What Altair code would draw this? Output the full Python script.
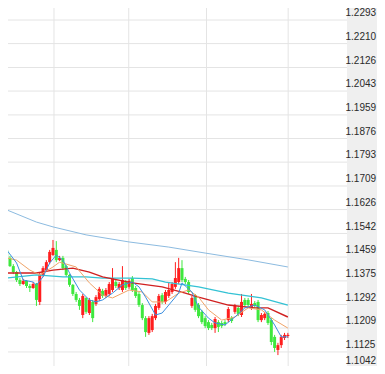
import altair as alt
import pandas as pd

# ---- candle data (index = trading day) ----
opens = [1.1484, 1.1456, 1.1427, 1.1406, 1.1378, 1.1364, 1.1375, 1.1357, 1.1350, 1.1364,
         1.1301, 1.1396, 1.1413, 1.1441, 1.1466, 1.1484, 1.1448, 1.1456, 1.1427, 1.1396,
         1.1361, 1.1329, 1.1308, 1.1255, 1.1315, 1.1262, 1.1301, 1.1294, 1.1311, 1.1340,
         1.1322, 1.1329, 1.1343, 1.1371, 1.1350, 1.1343, 1.1371, 1.1354, 1.1385, 1.1350,
         1.1329, 1.1290, 1.1244, 1.1192, 1.1202, 1.1244, 1.1280, 1.1325, 1.1301, 1.1322,
         1.1336, 1.1354, 1.1371, 1.1420, 1.1382, 1.1371, 1.1287, 1.1322, 1.1290, 1.1266,
         1.1244, 1.1230, 1.1220, 1.1209, 1.1230, 1.1227, 1.1230, 1.1237, 1.1244, 1.1266,
         1.1280, 1.1255, 1.1308, 1.1308, 1.1280, 1.1297, 1.1301, 1.1237, 1.1244, 1.1262,
         1.1237, 1.1178, 1.1132, 1.1149, 1.1174, 1.1181]
closes = [1.1456, 1.1427, 1.1406, 1.1378, 1.1364, 1.1375, 1.1357, 1.1350, 1.1364, 1.1308,
          1.1396, 1.1420, 1.1441, 1.1477, 1.1491, 1.1448, 1.1456, 1.1420, 1.1396, 1.1361,
          1.1329, 1.1308, 1.1287, 1.1322, 1.1266, 1.1308, 1.1244, 1.1318, 1.1347, 1.1322,
          1.1343, 1.1364, 1.1385, 1.1357, 1.1364, 1.1378, 1.1350, 1.1375, 1.1343, 1.1322,
          1.1290, 1.1244, 1.1195, 1.1244, 1.1251, 1.1287, 1.1322, 1.1301, 1.1336, 1.1343,
          1.1364, 1.1385, 1.1420, 1.1378, 1.1371, 1.1336, 1.1315, 1.1273, 1.1251, 1.1230,
          1.1216, 1.1209, 1.1209, 1.1241, 1.1213, 1.1216, 1.1223, 1.1276, 1.1234, 1.1287,
          1.1259, 1.1301, 1.1290, 1.1290, 1.1294, 1.1287, 1.1237, 1.1255, 1.1259, 1.1227,
          1.1160, 1.1139, 1.1149, 1.1178, 1.1185, 1.1185]
highs = [1.1494, 1.1463, 1.1434, 1.1410, 1.1385, 1.1382, 1.1378, 1.1364, 1.1371, 1.1368,
         1.1403, 1.1427, 1.1448, 1.1484, 1.1519, 1.1515, 1.1463, 1.1463, 1.1431, 1.1399,
         1.1364, 1.1336, 1.1315, 1.1329, 1.1318, 1.1315, 1.1308, 1.1325, 1.1354, 1.1347,
         1.1350, 1.1371, 1.1420, 1.1378, 1.1371, 1.1427, 1.1378, 1.1382, 1.1392, 1.1357,
         1.1336, 1.1297, 1.1251, 1.1251, 1.1259, 1.1294, 1.1329, 1.1332, 1.1343, 1.1371,
         1.1371, 1.1441, 1.1456, 1.1448, 1.1389, 1.1378, 1.1322, 1.1329, 1.1297, 1.1273,
         1.1251, 1.1237, 1.1227, 1.1248, 1.1237, 1.1234, 1.1237, 1.1283, 1.1251, 1.1294,
         1.1287, 1.1329, 1.1315, 1.1315, 1.1329, 1.1304, 1.1308, 1.1262, 1.1266, 1.1269,
         1.1244, 1.1185, 1.1157, 1.1185, 1.1192, 1.1192]
lows = [1.1448, 1.1424, 1.1399, 1.1371, 1.1357, 1.1361, 1.1350, 1.1336, 1.1347, 1.1287,
        1.1290, 1.1389, 1.1406, 1.1434, 1.1463, 1.1441, 1.1445, 1.1413, 1.1389, 1.1354,
        1.1322, 1.1301, 1.1273, 1.1244, 1.1259, 1.1255, 1.1230, 1.1287, 1.1304, 1.1315,
        1.1315, 1.1322, 1.1336, 1.1350, 1.1343, 1.1336, 1.1343, 1.1347, 1.1336, 1.1315,
        1.1283, 1.1237, 1.1178, 1.1185, 1.1195, 1.1237, 1.1273, 1.1294, 1.1294, 1.1315,
        1.1329, 1.1347, 1.1364, 1.1371, 1.1364, 1.1329, 1.1280, 1.1266, 1.1244, 1.1223,
        1.1209, 1.1202, 1.1202, 1.1192, 1.1195, 1.1209, 1.1216, 1.1230, 1.1227, 1.1259,
        1.1251, 1.1248, 1.1283, 1.1283, 1.1273, 1.1280, 1.1230, 1.1230, 1.1237, 1.1220,
        1.1149, 1.1125, 1.1114, 1.1139, 1.1167, 1.1174]

# ---- moving average lines (read at sample days) ----
ma_long_idx = [0, 9, 14, 24, 37, 49, 60, 73, 85]
ma_long = [1.1625, 1.1582, 1.1565, 1.1537, 1.1512, 1.1494, 1.1473, 1.1449, 1.1424]

ma_cyan_idx = [0, 9, 17, 24, 29, 38, 44, 48, 58, 67, 77, 85]
ma_cyan = [1.1385, 1.1396, 1.1389, 1.1389, 1.1385, 1.1385, 1.1382, 1.1371, 1.1354, 1.1332, 1.1315, 1.1290]

ma_red_idx = [0, 9, 14, 20, 25, 29, 38, 47, 54, 58, 67, 75, 79, 85]
ma_red = [1.1403, 1.1403, 1.1413, 1.1420, 1.1406, 1.1389, 1.1368, 1.1354, 1.1332, 1.1318,
          1.1290, 1.1280, 1.1280, 1.1248]

ma_orange_idx = [0, 3, 7, 10, 14, 16, 21, 25, 29, 32, 37, 41, 44, 48, 52, 55, 58, 61, 65, 69, 73, 77, 81, 85]
ma_orange = [1.1456, 1.1448, 1.1413, 1.1396, 1.1424, 1.1441, 1.1424, 1.1368, 1.1325, 1.1315,
             1.1343, 1.1336, 1.1301, 1.1301, 1.1332, 1.1343, 1.1318, 1.1273, 1.1237, 1.1248,
             1.1280, 1.1273, 1.1237, 1.1209]

ma_blue_idx = [0, 3, 5, 8, 9, 11, 13, 15, 17, 19, 22, 25, 27, 29, 32, 35, 38, 40, 42, 45,
               47, 49, 52, 53, 56, 58, 61, 63, 66, 69, 72, 75, 78, 81, 83, 85]
ma_blue = [1.1484, 1.1438, 1.1378, 1.1371, 1.1361, 1.1389, 1.1438, 1.1466, 1.1448, 1.1403,
           1.1343, 1.1308, 1.1301, 1.1308, 1.1332, 1.1361, 1.1371, 1.1354, 1.1318, 1.1255,
           1.1262, 1.1290, 1.1332, 1.1368, 1.1336, 1.1283, 1.1244, 1.1227, 1.1220, 1.1248,
           1.1280, 1.1290, 1.1273, 1.1220, 1.1178, 1.1178]

# ---- axis ticks / dividers ----
tick_values = [1.2293, 1.2210, 1.2126, 1.2043, 1.1959, 1.1876, 1.1793, 1.1709,
               1.1626, 1.1542, 1.1459, 1.1375, 1.1292, 1.1209, 1.1125, 1.1042]
divider_idx = [14.3, 36.9, 60.4, 85.1]

W, H = 369, 358          # fits the 385x374 page with its 8px margins
PANEL_X = 339
x_dom = [1.912, 110.44]
y_dom = [1.104035, 1.23353]
Y_RANGE = 368            # y scale extends a little below the visible view

xs = alt.Scale(domain=x_dom, nice=False, zero=False)
ys = alt.Scale(domain=y_dom, range=[Y_RANGE, 0], nice=False, zero=False)

y_axis = alt.Axis(
    orient="right", offset=PANEL_X - 2 - W, values=tick_values, format=".4f",
    grid=False, domain=False, ticks=False, tickSize=0, labelPadding=0,
    labelAlign="left", labelBaseline="middle",
    labelOffset={"condition": {"test": "datum.value < 1.105", "value": -15}, "value": -7.3},
    labelFont="Liberation Sans", labelFontSize=10, labelColor="#2a2a2a",
    labelOverlap=False, labelFlush=False, labelBound=False, title=None,
    zindex=2, minExtent=0)

candles = pd.DataFrame({
    "day": list(range(len(opens))),
    "open": opens, "high": highs, "low": lows, "close": closes,
})
candles["dir"] = ["up" if c >= o else "down" for o, c in zip(opens, closes)]
color = alt.Color("dir:N", scale=alt.Scale(domain=["up", "down"], range=["#ff1e1e", "#3ee83e"]), legend=None)

hgrid = alt.Chart(pd.DataFrame({"v": tick_values})).mark_rule(color="#e4e4e4", strokeWidth=1).encode(
    y=alt.Y("v:Q", scale=ys, axis=y_axis),
    x=alt.value(0), x2=alt.value(PANEL_X),
)

vgrid = alt.Chart(pd.DataFrame({"d": divider_idx})).mark_rule(color="#e4e4e4", strokeWidth=1).encode(
    x=alt.X("d:Q", scale=xs, axis=None),
    y=alt.value(0), y2=alt.value(H),
)

panel = alt.Chart(alt.Data(values=[{"p": 1}])).mark_rect(color="#efefef").encode(
    x=alt.value(PANEL_X), x2=alt.value(W), y=alt.value(0), y2=alt.value(H),
)

wicks = alt.Chart(candles).mark_rule(strokeWidth=1, clip=True).encode(
    x=alt.X("day:Q", scale=xs, axis=None),
    y=alt.Y("low:Q", scale=ys, axis=y_axis),
    y2="high:Q",
    color=color,
)
bodies = alt.Chart(candles).mark_bar(size=3, clip=True).encode(
    x=alt.X("day:Q", scale=xs, axis=None),
    y=alt.Y("open:Q", scale=ys, axis=y_axis),
    y2="close:Q",
    color=color,
)


def ma_layer(idx, vals, col, w):
    df = pd.DataFrame({"day": idx, "v": vals})
    return alt.Chart(df).mark_line(color=col, strokeWidth=w, clip=True).encode(
        x=alt.X("day:Q", scale=xs, axis=None),
        y=alt.Y("v:Q", scale=ys, axis=y_axis),
    )


lines = [
    ma_layer(ma_long_idx, ma_long, "#8cbbe0", 1),
    ma_layer(ma_cyan_idx, ma_cyan, "#33c2d4", 1.2),
    ma_layer(ma_red_idx, ma_red, "#d02020", 1.4),
    ma_layer(ma_orange_idx, ma_orange, "#f0a468", 1),
    ma_layer(ma_blue_idx, ma_blue, "#3b8fe0", 1),
]

chart = alt.layer(hgrid, vgrid, panel, wicks, bodies, *lines).properties(
    width=W, height=H, padding=0, background="white",
    autosize=alt.AutoSizeParams(type="none"),
).configure_view(stroke=None)

chart.save("out.html", embed_options={"renderer": "svg", "actions": False})
